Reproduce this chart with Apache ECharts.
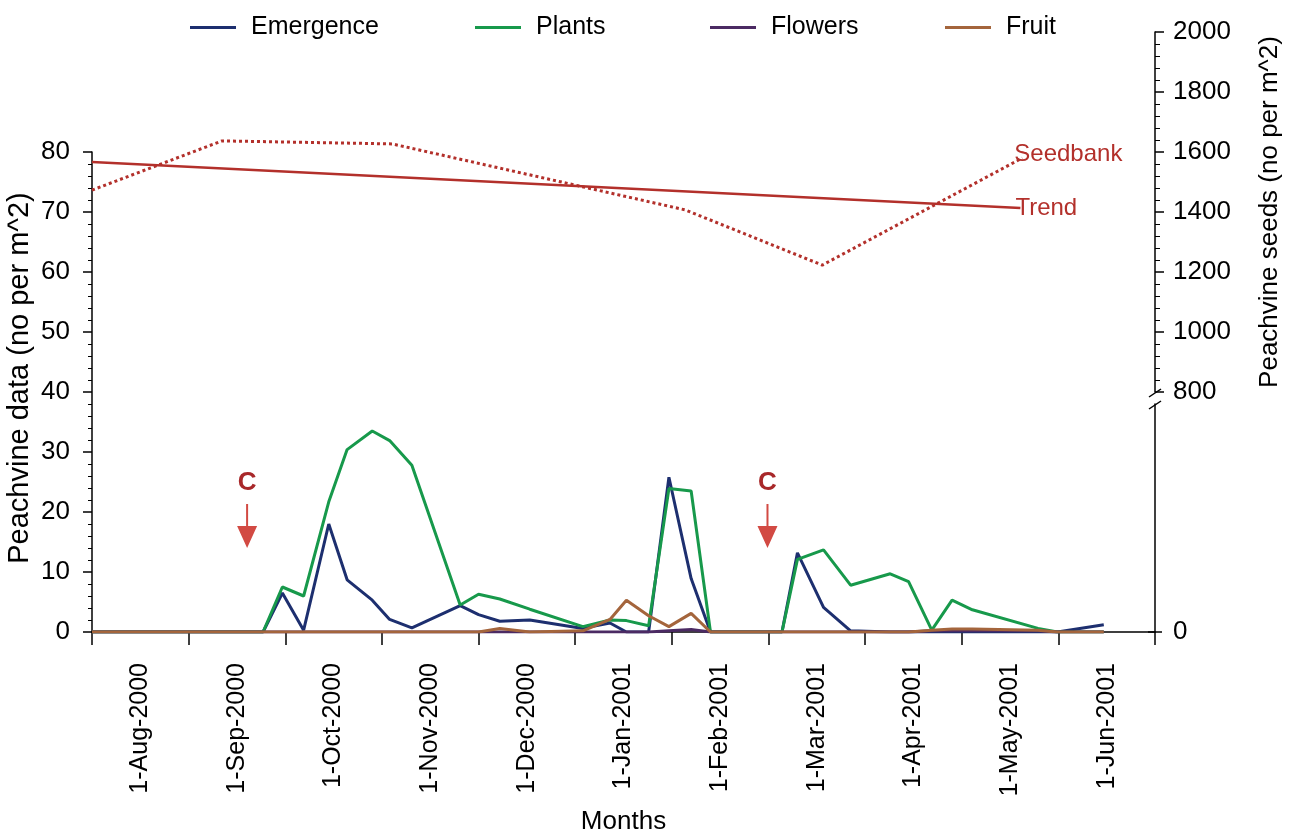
<!DOCTYPE html>
<html>
<head>
<meta charset="utf-8">
<script src="https://cdn.jsdelivr.net/npm/echarts@6/dist/echarts.min.js"></script>
<style>
html,body{margin:0;padding:0;background:#fff;}
#c{width:1294px;height:835px;}
</style>
</head>
<body>
<div id="c"></div>
<script>
// ---- data ----
var monthLabels = ['1-Aug-2000','1-Sep-2000','1-Oct-2000','1-Nov-2000','1-Dec-2000','1-Jan-2001','1-Feb-2001','1-Mar-2001','1-Apr-2001','1-May-2001','1-Jun-2001'];
// sampling positions, in months from the first axis tick
var samplePos = [0, 1.77, 1.97, 2.19, 2.45, 2.64, 2.90, 3.08, 3.31, 3.81, 4.00, 4.22, 4.53, 5.08, 5.36, 5.53, 5.76, 5.97, 6.20, 6.40, 7.14, 7.30, 7.57, 7.85, 8.26, 8.45, 8.69, 8.90, 9.11, 9.79, 9.99, 10.47];
var emergence = [0, 0, 6.5, 0.3, 18, 8.7, 5.3, 2.1, 0.7, 4.4, 2.9, 1.8, 2.0, 0.6, 1.5, 0, 0, 25.8, 8.9, 0, 0, 13.2, 4.1, 0.2, 0, 0, 0, 0, 0, 0, 0, 1.2];
var plants    = [0, 0, 7.5, 6.0, 21.7, 30.4, 33.5, 31.9, 27.8, 4.5, 6.3, 5.5, 3.8, 0.9, 2.0, 1.9, 1.05, 23.9, 23.5, 0, 0, 12.1, 13.7, 7.8, 9.7, 8.4, 0.3, 5.3, 3.7, 0.6, 0, 0];
var flowers   = [0, 0, 0, 0, 0, 0, 0, 0, 0, 0, 0, 0, 0, 0, 0, 0, 0, 0.2, 0.4, 0, 0, 0, 0, 0, 0, 0, 0.2, 0.2, 0.2, 0.2, 0, 0];
var fruit     = [0, 0, 0, 0, 0, 0, 0, 0, 0, 0, 0, 0.6, 0, 0.2, 2.1, 5.3, 2.7, 0.9, 3.1, 0, 0, 0, 0, 0, 0, 0, 0.3, 0.5, 0.5, 0.3, 0, 0];
var seedPos   = [0, 1.346, 3.106, 6.139, 7.557, 9.627];
var seedbank  = [1473, 1637, 1627, 1407, 1223, 1580];
var trendPos  = [0, 9.607];
var trend     = [1567, 1413];
var cutPos    = [1.605, 6.99];
var legendNames = ['Emergence','Plants','Flowers','Fruit'];
var leftTicks = [0, 10, 20, 30, 40, 50, 60, 70, 80];
var rightTicks = [800, 1000, 1200, 1400, 1600, 1800, 2000];

function pairs(xs, ys){ return xs.map(function(x,i){ return [x, ys[i]]; }); }

var FONT = "'Liberation Sans', Arial, sans-serif";
var RED = '#b3302b';
var chart = echarts.init(document.getElementById('c'), null, {renderer:'canvas'});

var arrowPath = 'path://M9,0 L11,0 L11,22 L20,22 L10,44 L0,22 L9,22 Z';
function axLine(){ return {show:true, onZero:false, lineStyle:{color:'#000', width:1.5}}; }
var legendLeft = [185, 470, 705, 940];

var option = {
  animation: false,
  backgroundColor: '#fff',
  textStyle: {fontFamily: FONT},
  legend: legendNames.map(function(n, i){
    return {
      data: [n], top: 10, left: legendLeft[i],
      icon: 'rect', itemWidth: 46, itemHeight: 3,
      textStyle: {fontSize: 25, color: '#000', fontFamily: FONT, padding: [0,0,0,10]}
    };
  }),
  grid: [
    {left: 92, right: 139, top: 152, bottom: 203, outerBoundsMode: 'none'},
    {left: 92, right: 139, top: 32, bottom: 443, outerBoundsMode: 'none'},
    {left: 92, right: 139, top: 404, bottom: 203, outerBoundsMode: 'none'}
  ],
  xAxis: [
    {type:'category', gridIndex:0, data: monthLabels, boundaryGap:true,
     axisLine: axLine(), axisTick:{show:true, length:13, lineStyle:{color:'#000', width:1.5}},
     axisLabel:{interval:0, rotate:90, margin:31, fontSize:25, color:'#000', fontFamily:FONT},
     name:'Months', nameLocation:'middle', nameGap:177,
     nameTextStyle:{fontSize:26, color:'#000', fontFamily:FONT}},
    {type:'value', gridIndex:0, min:0, max:11, show:false},
    {type:'value', gridIndex:1, min:0, max:11, show:false},
    {type:'value', gridIndex:2, min:0, max:11, show:false}
  ],
  yAxis: [
    {type:'value', gridIndex:0, position:'left', min:0, max:80, interval:10,
     axisLine: axLine(),
     axisTick:{show:true, length:9, lineStyle:{color:'#000', width:1.5}},
     minorTick:{show:true, splitNumber:5, length:4, lineStyle:{color:'#000', width:1}},
     splitLine:{show:false},
     axisLabel:{fontSize:26, color:'#000', margin:22, fontFamily:FONT,
       formatter:function(v){ return leftTicks.indexOf(v) >= 0 ? String(v) : ''; }},
     name:'Peachvine data (no per m^2)', nameLocation:'middle', nameGap:58, nameRotate:90,
     nameMoveOverlap:false,
     nameTextStyle:{fontSize:29, color:'#000', fontFamily:FONT, padding:[0,0,0,28]}},
    {type:'value', gridIndex:1, position:'right', min:800, max:2000, interval:200,
     axisLine: axLine(),
     axisTick:{show:true, length:9, lineStyle:{color:'#000', width:1.5}},
     minorTick:{show:true, splitNumber:5, length:5, lineStyle:{color:'#000', width:1}},
     splitLine:{show:false},
     axisLabel:{fontSize:26, color:'#000', margin:18, fontFamily:FONT,
       formatter:function(v){ return rightTicks.indexOf(v) >= 0 ? String(v) : ''; }},
     name:'Peachvine seeds (no per m^2)', nameLocation:'middle', nameGap:102, nameRotate:90,
     nameTextStyle:{fontSize:26, color:'#000', fontFamily:FONT}},
    {type:'value', gridIndex:2, position:'right', min:0, max:1, interval:1,
     axisLine: axLine(),
     axisTick:{show:false}, splitLine:{show:false},
     axisLabel:{fontSize:26, color:'#000', margin:18, fontFamily:FONT,
       formatter:function(v){ return v === 0 ? '0' : ''; }}}
  ],
  series: [
    {name:'Emergence', type:'line', xAxisIndex:1, yAxisIndex:0, data: pairs(samplePos, emergence),
     symbol:'none', lineStyle:{color:'#1d2f6f', width:3}, itemStyle:{color:'#1d2f6f'},
     markPoint:{
       symbol: arrowPath, symbolSize:[20,44], symbolOffset:[0,'-50%'],
       itemStyle:{color:'#d24a43'},
       label:{show:true, position:'top', distance:8, formatter:'C', color:'#a8282a',
              fontWeight:'bold', fontSize:26, fontFamily:FONT},
       data: cutPos.map(function(p){ return {coord:[p, 14]}; })
     }},
    {name:'Plants', type:'line', xAxisIndex:1, yAxisIndex:0, data: pairs(samplePos, plants),
     symbol:'none', lineStyle:{color:'#17994b', width:3}, itemStyle:{color:'#17994b'}},
    {name:'Flowers', type:'line', xAxisIndex:1, yAxisIndex:0, data: pairs(samplePos, flowers),
     symbol:'none', lineStyle:{color:'#4b2a63', width:3}, itemStyle:{color:'#4b2a63'}},
    {name:'Fruit', type:'line', xAxisIndex:1, yAxisIndex:0, data: pairs(samplePos, fruit),
     symbol:'none', lineStyle:{color:'#a4653c', width:3}, itemStyle:{color:'#a4653c'}},
    {name:'Seedbank', type:'line', xAxisIndex:2, yAxisIndex:1, data: pairs(seedPos, seedbank),
     symbol:'none', lineStyle:{color:RED, width:3, type:[3,3]}, itemStyle:{color:RED},
     endLabel:{show:true, formatter:'Seedbank', color:RED, fontSize:24, fontFamily:FONT, offset:[-16,-4]}},
    {name:'Trend', type:'line', xAxisIndex:2, yAxisIndex:1, data: pairs(trendPos, trend),
     symbol:'none', lineStyle:{color:RED, width:2.5}, itemStyle:{color:RED},
     endLabel:{show:true, formatter:'Trend', color:RED, fontSize:24, fontFamily:FONT, offset:[-13,0]}}
  ]
};
chart.setOption(option);

// axis-break marks on the right axis, placed through the axis scales
var bx = chart.convertToPixel({xAxisIndex:2}, 11);
var yTop = chart.convertToPixel({yAxisIndex:1}, 800);
var yLow = chart.convertToPixel({yAxisIndex:2}, 1);
var yZero = chart.convertToPixel({yAxisIndex:2}, 0);
chart.setOption({graphic: [
  {type:'line', shape:{x1:bx-6, y1:yTop+5, x2:bx+6, y2:yTop-3}, style:{stroke:'#000', lineWidth:1.5}},
  {type:'line', shape:{x1:bx-6, y1:yLow+5, x2:bx+6, y2:yLow-3}, style:{stroke:'#000', lineWidth:1.5}},
  {type:'line', shape:{x1:bx-7, y1:yZero, x2:bx+7, y2:yZero}, style:{stroke:'#000', lineWidth:1.5}}
]});
</script>
</body>
</html>
